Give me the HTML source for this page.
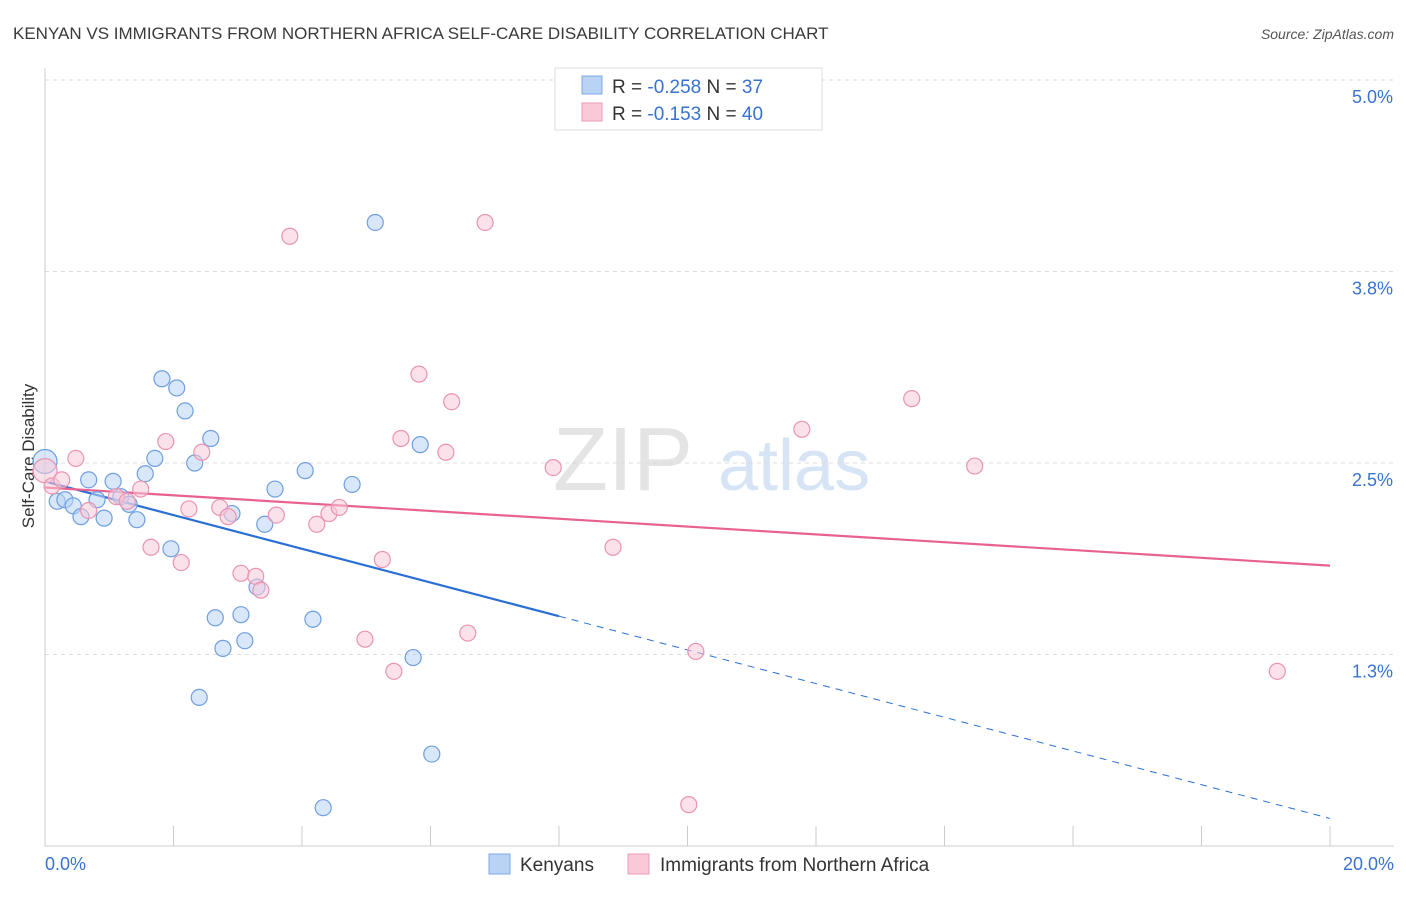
<!DOCTYPE html>
<html><head><meta charset="utf-8"><style>
body{margin:0;background:#fff;font-family:"Liberation Sans",sans-serif;}
svg text{font-family:"Liberation Sans",sans-serif;}
</style></head><body>
<svg id="chart" width="1406" height="892" viewBox="0 0 1406 892" xmlns="http://www.w3.org/2000/svg">
<text x="13" y="39" font-size="17" fill="#3a3a3a">KENYAN VS IMMIGRANTS FROM NORTHERN AFRICA SELF-CARE DISABILITY CORRELATION CHART</text>
<text x="1394" y="39" font-size="14" fill="#555" text-anchor="end" font-style="italic">Source: ZipAtlas.com</text>
<text x="553" y="490" font-size="90" fill="#e4e4e4" font-family="Liberation Serif">ZIP</text>
<text x="718" y="490" font-size="72" fill="#d6e4f5">atlas</text>
<text transform="translate(34,456) rotate(-90)" font-size="17" fill="#333" text-anchor="middle">Self-Care Disability</text>
<g id="grid"></g><g id="axes"></g><g id="lines"></g><g id="pts"></g>
<g>
<rect x="555" y="68" width="267" height="62" fill="#fff" stroke="#ddd"/>
<rect x="582" y="76" width="20" height="18" fill="#b9d3f5" stroke="#7fa9e6"/>
<text x="612" y="93" font-size="19" fill="#333">R = <tspan fill="#3a72d0">-0.258</tspan>   N =  <tspan fill="#3a72d0">37</tspan></text>
<rect x="582" y="103" width="20" height="18" fill="#f8c9d7" stroke="#ee9ab5"/>
<text x="612" y="120" font-size="19" fill="#333">R =  <tspan fill="#3a72d0">-0.153</tspan>   N = <tspan fill="#3a72d0">40</tspan></text>
</g>
<g>
<rect x="489" y="854" width="21" height="20" fill="#b9d3f5" stroke="#7fa9e6"/>
<text x="520" y="871" font-size="19" fill="#333">Kenyans</text>
<rect x="628" y="854" width="21" height="20" fill="#f8c9d7" stroke="#ee9ab5"/>
<text x="660" y="871" font-size="19" fill="#333">Immigrants from Northern Africa</text>
</g>
</svg>
<script>
const xTicks=[0,2,4,6,8,10,12,14,16,18,20];
const yTicks=[5.0,3.75,2.5,1.25];
const yTickLabels=["5.0%","3.8%","2.5%","1.3%"];
const xTickLabels=["0.0%","20.0%"];
const kenyanX=[0,0.19,0.31,0.44,0.56,0.68,0.81,0.92,1.06,1.18,1.31,1.43,1.56,1.71,1.82,1.96,2.05,2.18,2.33,2.40,2.58,2.65,2.77,2.91,3.05,3.11,3.30,3.42,3.58,4.05,4.17,4.33,4.78,5.14,5.73,5.84,6.02];
const kenyanY=[2.51,2.25,2.26,2.22,2.15,2.39,2.26,2.14,2.38,2.28,2.23,2.13,2.43,2.53,3.05,1.94,2.99,2.84,2.50,0.97,2.66,1.49,1.29,2.17,1.51,1.34,1.69,2.10,2.33,2.45,1.48,0.25,2.36,4.07,1.23,2.62,0.60];
const immX=[0,0.11,0.26,0.48,0.68,1.11,1.28,1.49,1.65,1.88,2.12,2.24,2.44,2.72,2.85,3.05,3.28,3.36,3.60,3.81,4.23,4.42,4.58,4.98,5.25,5.43,5.54,5.82,6.24,6.33,6.58,6.85,7.91,8.84,10.02,10.13,11.78,13.49,14.47,19.18];
const immY=[2.45,2.35,2.39,2.53,2.19,2.28,2.25,2.33,1.95,2.64,1.85,2.20,2.57,2.21,2.15,1.78,1.76,1.67,2.16,3.98,2.10,2.17,2.21,1.35,1.87,1.14,2.66,3.08,2.57,2.90,1.39,4.07,2.47,1.95,0.27,1.27,2.72,2.92,2.48,1.14];
const kenyanTrend=[2.38,-0.110];
const immTrend=[2.34,-0.0255];
const X0=45,X1=1330,YB=846,YT=80;
const sx=v=>X0+(v/20)*(X1-X0);
const sy=v=>YB-(v/5)*(YB-YT);
const NS="http://www.w3.org/2000/svg";
function mk(tag,parent,attrs){const e=document.createElementNS(NS,tag);for(const k in attrs)e.setAttribute(k,attrs[k]);document.getElementById(parent).appendChild(e);return e;}
yTicks.forEach((t,i)=>{
 const l=mk('line','grid',{x1:X0,x2:1394,y1:sy(t),y2:sy(t),stroke:'#ddd','stroke-dasharray':'4,4'});
 
 
 const tx=mk('text','grid',{x:1393,y:sy(t)+23,'font-size':18,fill:'#3a72d0','text-anchor':'end'});
 tx.textContent=yTickLabels[i];
 
 
});
const ya=mk('line','axes',{x1:X0,x2:X0,y1:68,y2:YB,stroke:'#ccc'});


const xa=mk('line','axes',{x1:X0,x2:1394,y1:YB,y2:YB,stroke:'#ccc'});


xTicks.forEach(t=>{
 const l=mk('line','axes',{x1:sx(t),x2:sx(t),y1:826,y2:YB,stroke:'#ccc'});
 
 
});
[[0,'start',45],[20,'end',1394]].forEach((d,i)=>{
 const tx=mk('text','axes',{x:d[2],y:870,'font-size':18,fill:'#3a72d0','text-anchor':d[1]});
 tx.textContent=xTickLabels[i];
 
 
});
function pts(xs,ys,fill,stroke,name){
 xs.forEach((x,i)=>{
  const c=mk('circle','pts',{cx:sx(x),cy:sy(ys[i]),r:i===0?12:8,fill:fill,'fill-opacity':0.55,stroke:stroke,'stroke-width':1.2});
  
  
 });
}
const kt=v=>kenyanTrend[0]+kenyanTrend[1]*v;
const it=v=>immTrend[0]+immTrend[1]*v;
const l1=mk('line','lines',{x1:sx(0),y1:sy(kt(0)),x2:sx(8),y2:sy(kt(8)),stroke:'#2a6fd6','stroke-width':2.2});


const l2=mk('line','lines',{x1:sx(8),y1:sy(kt(8)),x2:sx(20),y2:sy(kt(20)),stroke:'#2a6fd6','stroke-width':1,'stroke-dasharray':'7,6'});


const l3=mk('line','lines',{x1:sx(0),y1:sy(it(0)),x2:sx(20),y2:sy(it(20)),stroke:'#e8628f','stroke-width':2.2});


pts(kenyanX,kenyanY,'#b9d3f5','#6f9fe0','kenyans-point');
pts(immX,immY,'#f8c9d7','#ea94b0','immigrants-point');
</script>
</body></html>
